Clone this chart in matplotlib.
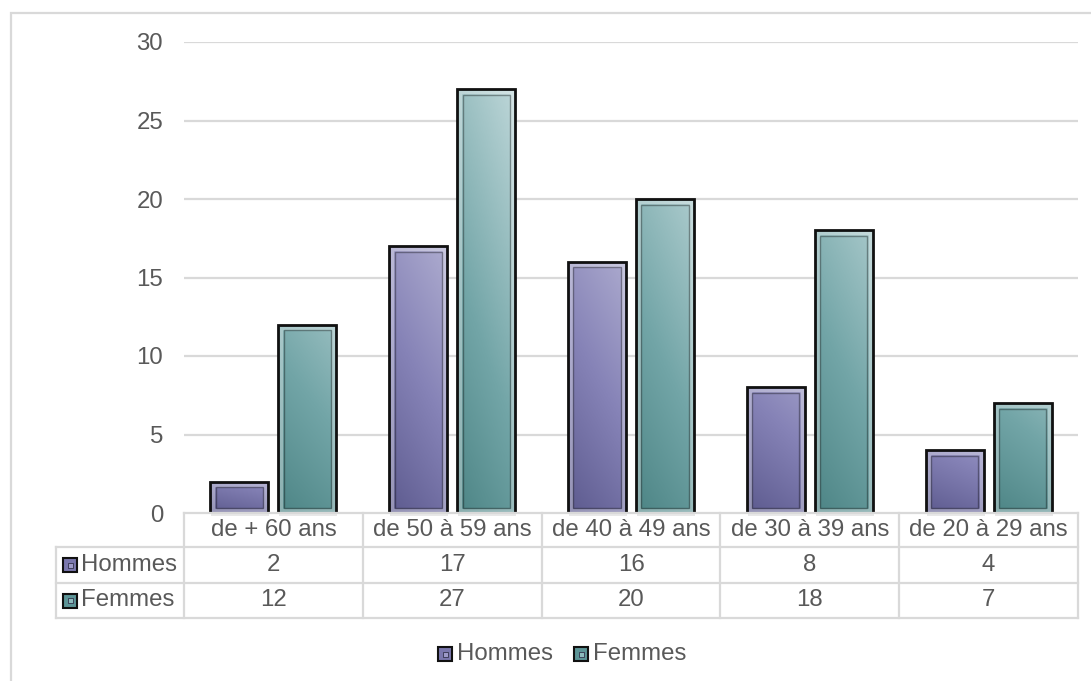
import numpy as np
import matplotlib
matplotlib.use("Agg")
import matplotlib.pyplot as plt
from matplotlib.patches import Rectangle
from matplotlib.colors import LinearSegmentedColormap
from matplotlib.lines import Line2D

categories = ["de + 60 ans", "de 50 à 59 ans", "de 40 à 49 ans", "de 30 à 39 ans", "de 20 à 29 ans"]
series_names = ["Hommes", "Femmes"]
hommes = [2, 17, 16, 8, 4]
femmes = [12, 27, 20, 18, 7]
yticks = [0, 5, 10, 15, 20, 25, 30]

plt.rcParams['font.family'] = ['Liberation Sans', 'DejaVu Sans']
TXT = "#595959"
GRID = "#d9d9d9"
FS = 17.3

W, H = 1091, 681
fig = plt.figure(figsize=(W / 100, H / 100), dpi=100)

def fx(px):
    return px / W

def fy(py):
    return 1 - py / H

# outer chart frame
fig.add_artist(Rectangle((fx(11), fy(700)), fx(1100) - fx(11), fy(13) - fy(700),
                         transform=fig.transFigure, fill=False, edgecolor=GRID, lw=1.6))

ax_l, ax_r, ax_t, ax_b = 184, 1078, 42, 513
ax = fig.add_axes([fx(ax_l), fy(ax_b), fx(ax_r) - fx(ax_l), fy(ax_t) - fy(ax_b)])
n = len(categories)
ax.set_xlim(0, n)
ax.set_ylim(0, 30)
ax.set_yticks(yticks)
ax.set_yticklabels([str(t) for t in yticks], fontsize=FS, color=TXT)
ax.tick_params(axis='y', length=0, pad=15)
ax.set_xticks([])
for s in ax.spines.values():
    s.set_visible(False)
for t in yticks[1:]:
    ax.axhline(t, color=GRID, lw=1.6, zorder=0)

hom_cmap = LinearSegmentedColormap.from_list("h", ["#4a487c", "#8683b7", "#c9c8e0"])
fem_cmap = LinearSegmentedColormap.from_list("f", ["#3c7676", "#72a5a7", "#c6dcde"])

bw = 0.325
off = 0.19
px_x = n / (ax_r - ax_l)
px_y = 30 / (ax_b - ax_t)

def gradient_bar(xc, h, cmap):
    x0 = xc - bw / 2
    rect = Rectangle((x0, 0), bw, h, facecolor="none", edgecolor="none")
    ax.add_patch(rect)
    gy = np.linspace(0, 1, 200)[:, None]
    gx = np.linspace(0, 1, 60)[None, :]
    hfrac = h / 30.0
    g = 0.72 * gy ** 0.9 + 0.28 * gx
    g = 0.15 + 0.85 * g * (0.45 + 0.55 * hfrac)
    im = ax.imshow(g, cmap=cmap, vmin=0, vmax=1, origin="lower",
                   extent=(x0, x0 + bw, 0, h), aspect="auto", zorder=2,
                   interpolation="bilinear")
    im.set_clip_path(rect)
    # soft shadow under the bar
    ax.add_patch(Rectangle((x0 + 1 * px_x, -3 * px_y), bw, h, facecolor="#bfbfbf",
                           edgecolor="none", alpha=0.35, zorder=1.5, clip_on=False))
    # bevel: light inner ring and dark inner line
    ax.add_patch(Rectangle((x0 + 3 * px_x, 3 * px_y), bw - 6 * px_x, h - 6 * px_y,
                           facecolor="none", edgecolor="white", alpha=0.35, lw=2.5, zorder=3))
    ax.add_patch(Rectangle((x0 + 5.5 * px_x, 5.5 * px_y), bw - 11 * px_x, h - 11 * px_y,
                           facecolor="none", edgecolor="black", alpha=0.35, lw=1.0, zorder=3))
    ax.add_patch(Rectangle((x0, 0), bw, h, facecolor="none", edgecolor="#111111",
                           lw=2.0, zorder=4))

for i in range(n):
    gradient_bar(i + 0.5 - off, hommes[i], hom_cmap)
    gradient_bar(i + 0.5 + off, femmes[i], fem_cmap)

# data table under the plot
rows_y = [513, 547, 583, 618]
tab_left = 56
def hline(y, x0, x1):
    fig.add_artist(Line2D([fx(x0), fx(x1)], [fy(y), fy(y)], transform=fig.transFigure,
                          color=GRID, lw=1.6))
def vline(x, y0, y1):
    fig.add_artist(Line2D([fx(x), fx(x)], [fy(y0), fy(y1)], transform=fig.transFigure,
                          color=GRID, lw=1.6))

hline(rows_y[0], ax_l, ax_r)
for y in rows_y[1:]:
    hline(y, tab_left, ax_r)
vline(tab_left, rows_y[1], rows_y[3])
cw = (ax_r - ax_l) / n
for i in range(n + 1):
    vline(ax_l + i * cw, rows_y[0], rows_y[3])

def key(xp, yc, face, inner):
    s = 14
    fig.add_artist(Rectangle((fx(xp), fy(yc + s / 2)), fx(s), s / H, transform=fig.transFigure,
                             facecolor=face, edgecolor="#111111", lw=1.5))
    fig.add_artist(Rectangle((fx(xp + 4.5), fy(yc + 2.5)), fx(5), 5 / H, transform=fig.transFigure,
                             facecolor=inner, edgecolor="#33334d", lw=0.6))

key_faces = [("#7a77ad", "#9d9ac8"), ("#5d9597", "#8dbbbd")]
row_vals = [hommes, femmes]
for r in range(2):
    yc = (rows_y[r + 1] + rows_y[r + 2]) / 2
    key(63, yc, *key_faces[r])
    fig.text(fx(81), fy(yc), series_names[r], fontsize=FS, color=TXT, ha="left", va="center")
    for i in range(n):
        fig.text(fx(ax_l + (i + 0.5) * cw), fy(yc), str(row_vals[r][i]), fontsize=FS,
                 color=TXT, ha="center", va="center")
yc = (rows_y[0] + rows_y[1]) / 2
for i in range(n):
    fig.text(fx(ax_l + (i + 0.5) * cw), fy(yc), categories[i], fontsize=FS,
             color=TXT, ha="center", va="center")

# legend
ly = 654
key(438, ly, *key_faces[0])
fig.text(fx(457), fy(ly), series_names[0], fontsize=FS, color=TXT, ha="left", va="center")
key(574, ly, *key_faces[1])
fig.text(fx(593), fy(ly), series_names[1], fontsize=FS, color=TXT, ha="left", va="center")

fig.savefig("out.png", dpi=100)
